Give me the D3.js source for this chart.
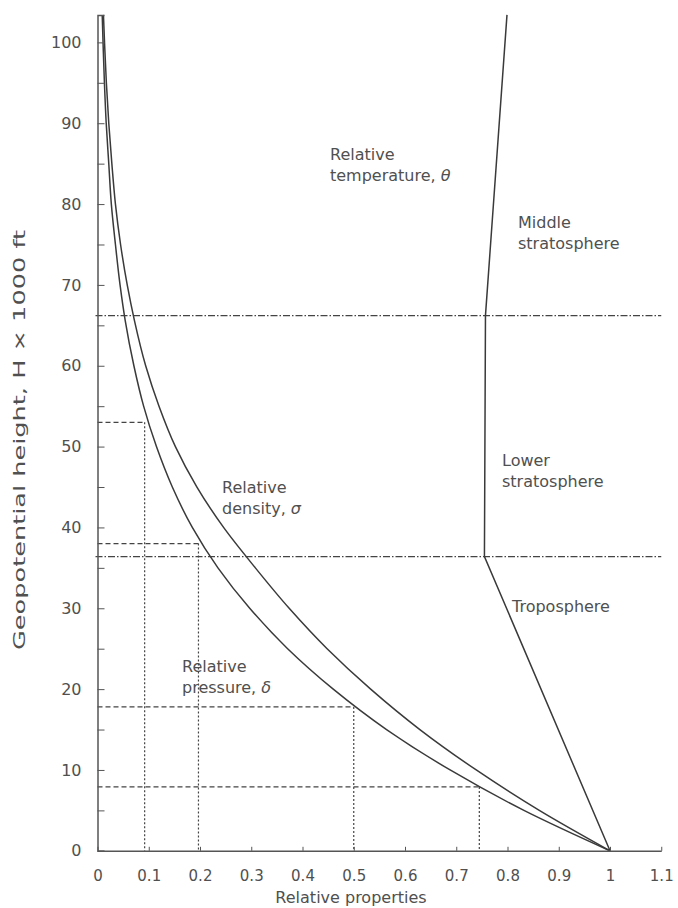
<!DOCTYPE html>
<html lang="en">
<head>
  <meta charset="utf-8">
  <title>Relative properties of the standard atmosphere</title>
  <style>
    body { margin: 0; background: #fff; }
    svg text { font-family: "DejaVu Sans", sans-serif; fill: #505050; }
    .axis path, .axis line { stroke: #555; }
    .curve { fill: none; stroke: #3a3a3a; stroke-width: 1.5; }
  </style>
  <script src="https://d3js.org/d3.v7.min.js"></script>
</head>
<body>
<svg width="678" height="908"></svg>
<script>
    // heights in 1000 ft
    var heights  = [0, 5, 10, 15, 20, 25, 30, 35, 40, 45, 50, 55, 60, 65.62, 70, 75, 80, 85, 90, 95, 100, 103.4]
    var pressure = [1, 0.832, 0.688, 0.564, 0.460, 0.371, 0.297, 0.235, 0.185, 0.146, 0.115, 0.090, 0.071, 0.054, 0.044, 0.035, 0.027, 0.022, 0.017, 0.0135, 0.0108, 0.0092]
    var density  = [1, 0.862, 0.739, 0.629, 0.533, 0.448, 0.374, 0.308, 0.246, 0.194, 0.152, 0.120, 0.094, 0.072, 0.058, 0.045, 0.035, 0.028, 0.022, 0.0173, 0.0137, 0.0116]

    var tempHeights = [0, 36.4, 66.2, 103.4]
    var temperature = [1, 0.755, 0.757, 0.799]

    // layer boundaries (dash-dot) and reading guides (dashed)
    var boundaries = [36.4, 66.2]
    var guideHeights = [53, 38, 17.8, 7.9]
    var guideValues  = [0.092, 0.197, 0.5, 0.745]

    var yTicks = d3.range(0, 101, 5)
    var xTicks = d3.range(0, 12).map(function(i) { return i / 10 })

    var svg = d3.select("svg")

    var x = d3.scaleLinear().domain([0, 1.1]).range([97.5, 661.25]),
        y = d3.scaleLinear().domain([0, 103.4]).range([850.8, 14.9])

    // guide lines
    guideHeights.forEach(function(h, i) {
        svg.append("line")
           .attr("x1", x(0)).attr("x2", x(guideValues[i]))
           .attr("y1", y(h)).attr("y2", y(h))
           .attr("stroke", "#444").attr("stroke-width", 1.2)
           .attr("stroke-dasharray", "5,3")
        svg.append("line")
           .attr("x1", x(guideValues[i])).attr("x2", x(guideValues[i]))
           .attr("y1", y(h)).attr("y2", y(0))
           .attr("stroke", "#444").attr("stroke-width", 1.2)
           .attr("stroke-dasharray", "2,2")
    })

    svg.selectAll(".boundary")
       .data(boundaries)
       .enter().append("line")
       .attr("class", "boundary")
       .attr("x1", x(0) - 2).attr("x2", x(1.1))
       .attr("y1", function(d) { return y(d) })
       .attr("y2", function(d) { return y(d) })
       .attr("stroke", "#444").attr("stroke-width", 1.2)
       .attr("stroke-dasharray", "7,2,1.5,2")

    // curves
    var line = d3.line()
        .x(function(d) { return x(d[0]) })
        .y(function(d) { return y(d[1]) })
        .curve(d3.curveMonotoneY)

    svg.append("path").attr("class", "curve")
       .attr("d", line(heights.map(function(h, i) { return [pressure[i], h] })))
    svg.append("path").attr("class", "curve")
       .attr("d", line(heights.map(function(h, i) { return [density[i], h] })))
    svg.append("path").attr("class", "curve")
       .attr("d", d3.line().x(function(d) { return x(d[0]) }).y(function(d) { return y(d[1]) })
                  (tempHeights.map(function(h, i) { return [temperature[i], h] })))

    // axes
    svg.append("g")
       .attr("class", "axis")
       .attr("transform", "translate(" + x(0) + ",0)")
       .call(d3.axisLeft(y).tickValues(yTicks).tickSize(-7).tickPadding(16)
             .tickFormat(function(d) { return d % 10 == 0 ? d : "" }))
       .call(function(g) {
           g.select(".domain").attr("stroke-width", 1.5)
           g.selectAll("text").style("font-size", "16px").attr("fill", "#505050")
       })

    svg.append("g")
       .attr("class", "axis")
       .attr("transform", "translate(0," + y(0) + ")")
       .call(d3.axisBottom(x).tickValues(xTicks).tickSize(-4).tickSizeOuter(0).tickPadding(20)
             .tickFormat(function(d) { return +d.toFixed(1) }))
       .call(function(g) {
           g.select(".domain").attr("stroke-width", 1.5)
           g.selectAll("text").style("font-size", "15px").attr("fill", "#505050")
       })

    // axis titles
    svg.append("text")
       .attr("x", 351).attr("y", 903)
       .attr("text-anchor", "middle")
       .style("font-size", "16px")
       .text("Relative properties")

    svg.append("text")
       .attr("transform", "translate(25,440) rotate(-90)")
       .attr("text-anchor", "middle")
       .attr("textLength", 420)
       .attr("lengthAdjust", "spacingAndGlyphs")
       .style("font-size", "15px")
       .text("Geopotential height, H \u00d7 1000 ft")

    // annotations
    function note(xp, yp, first, second, greek) {
        var t = svg.append("text").attr("x", xp).attr("y", yp).style("font-size", "16px")
        t.append("tspan").attr("x", xp).text(first)
        var t2 = t.append("tspan").attr("x", xp).attr("dy", 21).text(second)
        if (greek) t2.append("tspan").style("font-style", "italic").text(greek)
    }
    note(330, 160, "Relative", "temperature, ", "\u03b8")
    note(518, 228, "Middle", "stratosphere")
    note(502, 466, "Lower", "stratosphere")
    note(222, 493, "Relative", "density, ", "\u03c3")
    note(182, 672, "Relative", "pressure, ", "\u03b4")
    svg.append("text").attr("x", 512).attr("y", 612).style("font-size", "16px").text("Troposphere")
</script>
</body>
</html>
